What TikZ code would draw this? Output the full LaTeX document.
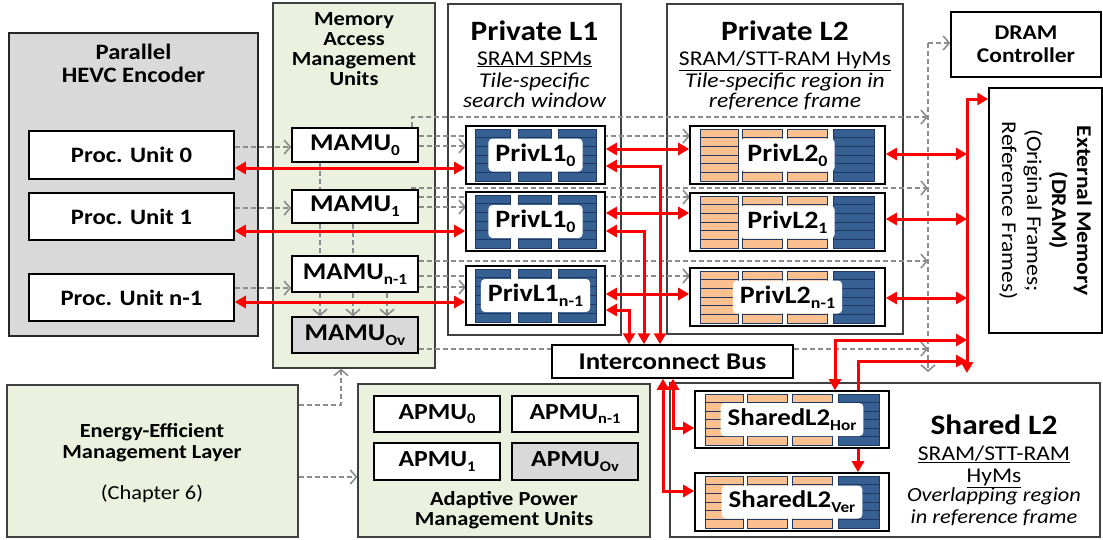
\documentclass[tikz,border=0pt]{standalone}
\usepackage{fontspec}
\setmainfont[FakeStretch=1.12]{Carlito}
\usetikzlibrary{arrows.meta,calc}

\definecolor{encgray}{HTML}{D9D9D9}
\definecolor{mgreen}{HTML}{EBF1DE}
\definecolor{mblue}{HTML}{376092}
\definecolor{mnavy}{HTML}{1F3864}
\definecolor{morange}{HTML}{FAC090}
\definecolor{dgray}{HTML}{8C8C8C}
\definecolor{framec}{HTML}{404040}
\definecolor{rred}{HTML}{FF0000}

\newcommand{\setfs}[1]{\fontsize{#1}{#1}\selectfont}
\makeatletter
% index set lowered and smaller than the running text
\newcommand{\subix}[1]{\raisebox{-0.2em}{\fontsize{\fpeval{0.64*\f@size}}{0}\selectfont #1}}
\makeatother
% rectangle node from corner coordinates: style, name, x0, y0, x1, y1, text
\newcommand{\boxnode}[7]{\node[#1, minimum width={#5pt-#3pt}, minimum height={#6pt-#4pt}] (#2) at ({(#3+#5)/2},{(#4+#6)/2}) {#7};}
% memory array: name, x0, y0, x1, y1, column list macro (from/to/colour), label, label style
\newcommand{\memarray}[8]{%
  \boxnode{membox}{#1}{#2}{#3}{#4}{#5}{}
  \foreach \ca/\cb/\cc in #6 {
    \foreach \r in {0,...,5} {
      \draw[cell, fill=\cc] ({#2+\ca},{#3+3+\r*(#5-#3-6)/6}) rectangle ({#2+\cb},{#3+3+(\r+1)*(#5-#3-6)/6});
    }
  }
  \node[memlabel, #8] (#1-lbl) at ({(#2+#4)/2},{(#3+#5)/2}) {#7};
}
\newcommand{\lonecols}{9/44/mblue, 52/85/mblue, 92/130/mblue}
\newcommand{\ltwocols}{10/48/morange, 52/92/morange, 97/137/morange, 143/184/mblue}

\tikzset{
  frame/.style={draw=framec, line width=1.2pt, fill=white, inner sep=0pt},
  greenframe/.style={frame, fill=mgreen},
  grayframe/.style={draw=black!85, line width=1.8pt, fill=encgray, inner sep=0pt},
  unitbox/.style={draw=black, line width=1.5pt, fill=white, inner sep=0pt, font=\setfs{22}\bfseries},
  mambox/.style={unitbox, font=\setfs{24}\bfseries},
  apbox/.style={unitbox, font=\setfs{23}\bfseries},
  membox/.style={draw=black, line width=1.6pt, fill=white, inner sep=0pt},
  cell/.style={draw=mnavy, line width=0.8pt},
  memlabel/.style={fill=white, rounded corners=4pt, inner xsep=7pt, inner ysep=0pt, minimum height=33pt, font=\setfs{25}\bfseries},
  gdash/.style={draw=dgray, line width=1.6pt, dash pattern=on 5pt off 3pt},
  garrow/.style={gdash, -{Straight Barb[length=6pt, width=14pt]}},
  redline/.style={draw=rred, line width=3pt},
  rboth/.style={redline, {Triangle[length=11pt,width=12pt]}-{Triangle[length=11pt,width=12pt]}},
  rone/.style={redline, -{Triangle[length=11pt,width=12pt]}},
  ttl/.style={font=\setfs{28}\bfseries, anchor=base},
  sub/.style={font=\setfs{21}, anchor=base},
  desc/.style={font=\setfs{21}\itshape, anchor=base},
}

\begin{document}
\begin{tikzpicture}[x=1pt,y=-1pt]
\useasboundingbox (0,0) rectangle (1103,539);

% ---- frames ----
\boxnode{grayframe}{enc}{9}{33}{258}{336}{}
\node[font=\fontsize{22}{23}\selectfont\bfseries, align=center] (enctitle) at (133.5,63) {Parallel\\HEVC Encoder};

\boxnode{greenframe}{mam}{273}{3}{435}{368}{}
\node[font=\setfs{20}\bfseries, align=center] (mamtitle) at (354,49) {Memory\\Access\\Management\\Units};

\boxnode{frame}{l1f}{448}{4}{621}{335}{}
\node[ttl] (l1t) at (534.5,40) {Private L1};
\node[sub] (l1s) at (534.5,65) {\underline{SRAM SPMs}};
\node[desc] (l1d1) at (534.5,87) {Tile-specific};
\node[desc] (l1d2) at (534.5,107) {search window};

\boxnode{frame}{l2f}{667}{4}{903}{334}{}
\node[ttl] (l2t) at (785,40) {Private L2};
\node[sub] (l2s) at (785,65) {\underline{SRAM/STT-RAM HyMs}};
\node[desc] (l2d1) at (785,87) {Tile-specific region in};
\node[desc] (l2d2) at (785,107) {reference frame};

\boxnode{frame}{shf}{670}{383}{1100}{537}{}
\node[ttl] (sht) at (994,434) {Shared L2};
\node[sub] (shs1) at (994,460) {\underline{SRAM/STT-RAM}};
\node[sub] (shs2) at (994,482) {\underline{HyMs}};
\node[desc, font=\setfs{20}\itshape] (shd1) at (994,501) {Overlapping region};
\node[desc, font=\setfs{20}\itshape] (shd2) at (994,523) {in reference frame};

\boxnode{greenframe}{en}{7}{385}{298}{537}{}
\node[font=\setfs{20}\bfseries, anchor=base] (en1) at (152,437) {Energy-Efficient};
\node[font=\setfs{20}\bfseries, anchor=base] (en2) at (152,458) {Management Layer};
\node[font=\setfs{20}, anchor=base] (en3) at (152,499) {(Chapter 6)};

\boxnode{greenframe}{ap}{358}{384}{650}{537}{}
\node[font=\setfs{20}\bfseries, anchor=base] (apt1) at (504,505) {Adaptive Power};
\node[font=\setfs{20}\bfseries, anchor=base] (apt2) at (504,525) {Management Units};

% ---- junction points of the shared control and data lines ----
\coordinate (dvtop) at (928,43);
\coordinate (dvbot) at (928,372);
\coordinate (rvtop) at (967,99);
\coordinate (rvbot) at (967,373);

% ---- processing units and MAMUs ----
\boxnode{unitbox}{pu0}{29}{131}{234}{179}{Proc. Unit 0}
\boxnode{unitbox}{pu1}{29}{193}{234}{240}{Proc. Unit 1}
\boxnode{unitbox}{pun}{29}{274}{234}{321}{Proc. Unit n-1}

\boxnode{mambox}{m0}{292}{128}{418}{162}{MAMU\subix{0}}
\boxnode{mambox}{m1}{292}{190}{418}{223}{MAMU\subix{1}}
\boxnode{mambox}{mn}{292}{256}{418}{292}{MAMU\subix{n-1}}
\boxnode{mambox, fill=encgray}{mov}{292}{317}{418}{353}{MAMU\subix{Ov}}

\boxnode{unitbox, font=\setfs{24}\bfseries}{bus}{552}{345}{793}{378}{Interconnect Bus}
\boxnode{unitbox, align=center, font=\fontsize{21}{23}\selectfont\bfseries}{dram}{951}{12}{1101}{77}{DRAM\\Controller}
\boxnode{unitbox}{ext}{989}{88}{1102}{333}{}
\node[rotate=-90, align=center, font=\fontsize{21}{25}\selectfont] (extlbl) at (ext.center)
  {\textbf{External Memory}\\\textbf{(DRAM)}\\(Original Frames;\\Reference Frames)};

\boxnode{apbox}{a0}{374}{396}{500}{432}{APMU\subix{0}}
\boxnode{apbox}{an}{512}{396}{638}{432}{APMU\subix{n-1}}
\boxnode{apbox}{a1}{374}{443}{500}{480}{APMU\subix{1}}
\boxnode{apbox, fill=encgray}{aov}{512}{443}{638}{480}{APMU\subix{Ov}}

% ---- dashed control paths (drawn before the memories, which hide them) ----
\draw[garrow] (pu0.east |- 0,147) -- (m0.west |- 0,147);
\draw[garrow] (pu1.east |- 0,208) -- (m1.west |- 0,208);
\draw[garrow] (pun.east |- 0,288) -- (mn.west |- 0,288);

\draw[gdash] (m0.south -| 320,0) -- (m1.north -| 320,0);
\foreach \xx in {320,353} \draw[gdash] (m1.south -| \xx,0) -- (mn.north -| \xx,0);
\foreach \xx in {320,353,387} \draw[garrow] (mn.south -| \xx,0) -- (mov.north -| \xx,0);

\draw[garrow] (m0.north -| 412,0) |- (dvtop |- 0,117);
\draw[garrow] (m0.east |- 0,136) -- (690,136) coordinate (c20);
\draw[garrow] (m0.east |- 0,146) -- (466,146) coordinate (c10);
\draw[garrow] (m1.north -| 412,0) |- (dvtop |- 0,188);
\draw[garrow] (m1.east |- 0,197) -- (690,197) coordinate (c21);
\draw[garrow] (m1.east |- 0,207) -- (466,207) coordinate (c11);
\draw[garrow] (mn.east |- 0,261) -- (dvtop |- 0,261);
\draw[garrow] (mn.east |- 0,276) -- (690,276) coordinate (c2n);
\draw[garrow] (mn.east |- 0,287) -- (466,287) coordinate (c1n);
\draw[gdash] (mov.east |- 0,349) -- (bus.west |- 0,349);
\draw[garrow] (bus.east |- 0,349) -- (dvtop |- 0,349);
\draw[garrow] (dvtop) -- (dvbot);
\draw[garrow] (dvtop) -- (dram.west |- dvtop);

\draw[garrow] (en.east |- 0,405) -| (mam.south -| 341,0);
\draw[garrow] (en.east |- 0,477) -- (ap.west |- 0,477);

% ---- memories ----
\memarray{p10}{466}{126}{605}{184}{\lonecols}{PrivL1\subix{0}}{}
\memarray{p11}{466}{192}{605}{251}{\lonecols}{PrivL1\subix{0}}{}
\memarray{p1n}{466}{266}{605}{325}{\lonecols}{PrivL1\subix{n-1}}{}
\memarray{p20}{690}{126}{885}{184}{\ltwocols}{PrivL2\subix{0}}{}
\memarray{p21}{690}{193}{885}{251}{\ltwocols}{PrivL2\subix{1}}{}
\memarray{p2n}{690}{268}{885}{326}{\ltwocols}{PrivL2\subix{n-1}}{}
\memarray{sh}{695}{391}{889}{448}{\ltwocols}{SharedL2\subix{Hor}}{font=\setfs{24}\bfseries}
\memarray{sv}{695}{473}{889}{531}{\ltwocols}{SharedL2\subix{Ver}}{font=\setfs{24}\bfseries}

% ---- data paths (red) ----
\draw[rboth] (pu0.east |- 0,168) -- (p10.west |- 0,168);
\draw[rboth] (pu1.east |- 0,231) -- (p11.west |- 0,231);
\draw[rboth] (pun.east |- 0,302) -- (p1n.west |- 0,302);
\draw[rboth] (p10.east |- 0,149) -- (p20.west |- 0,149);
\draw[rboth] (p11.east |- 0,213) -- (p21.west |- 0,213);
\draw[rboth] (p1n.east |- 0,294) -- (p2n.west |- 0,294);
\draw[rboth] (p10.east |- 0,166) -| (bus.north -| 660,0);
\draw[rboth] (p11.east |- 0,231) -| (bus.north -| 644,0);
\draw[rboth] (p1n.east |- 0,310) -| (bus.north -| 629,0);
\draw[rboth] (p20.east |- 0,154) -- (rvtop |- 0,154);
\draw[rboth] (p21.east |- 0,219) -- (rvtop |- 0,219);
\draw[rboth] (p2n.east |- 0,298) -- (rvtop |- 0,298);
\draw[rboth] (rvbot) -- (rvtop) -- (ext.west |- rvtop);
\draw[rboth] (sh.north -| 835,0) |- (rvtop |- 0,340);
\draw[rone] (sh.north -| 858,0) |- (rvtop |- 0,361);
\draw[rone] (sh.south -| 858,0) -- (sv.north -| 858,0);
\draw[rboth] (bus.south -| 673,0) |- (sh.west |- 0,428);
\draw[rboth] (bus.south -| 663,0) |- (sv.west |- 0,491);
\end{tikzpicture}
\end{document}
